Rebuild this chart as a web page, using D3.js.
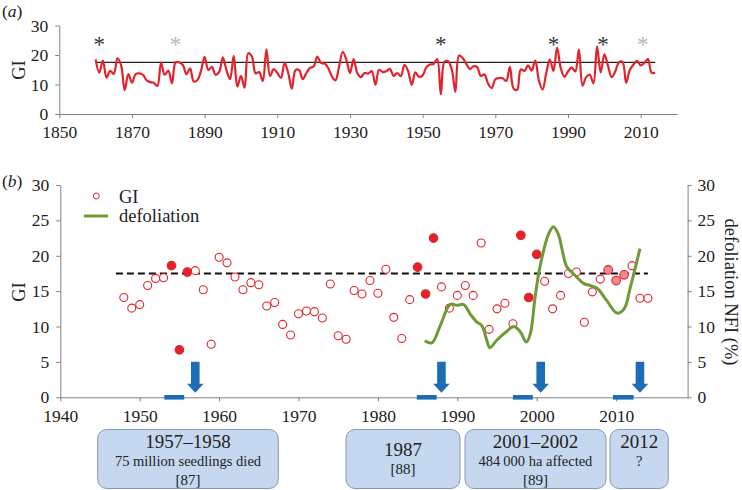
<!DOCTYPE html>
<html>
<head>
<meta charset="utf-8">
<script src="https://cdn.jsdelivr.net/npm/d3@7"></script>
<style>
  html, body { margin: 0; padding: 0; background: #fff; }
  svg { display: block; font-family: "Liberation Serif", "Times New Roman", serif; }
  .axis path, .axis line { stroke: #808080; stroke-width: 1; }
  .axis text { fill: #222; font-size: 17.5px; font-family: "Liberation Serif", "Times New Roman", serif; }
</style>
</head>
<body>
<svg id="chart" width="742" height="490"></svg>
<script>
// ---------- DATA ----------
// Panel (a): GI series, 1860-1947
const giEarlyStart = 1860;
const giEarly = [18.5, 14.0, 18.1, 12.3, 14.6, 13.6, 18.9, 16.6, 8.1, 13.5,
  10.6, 13.5, 13.8, 13.3, 11.5, 10.8, 10.6, 9.5, 17.4, 13.3,
  14.7, 10.4, 17.5, 17.5, 16.6, 13.5, 15.5, 11.0, 11.5, 14.6,
  19.4, 14.9, 16.0, 13.3, 14.3, 19.2, 14.9, 11.8, 19.7, 9.3,
  12.9, 8.9, 20.6, 19.5, 13.8, 14.2, 11.2, 21.9, 12.9, 15.2,
  13.9, 12.2, 17.3, 13.9, 8.6, 14.9, 14.9, 11.8, 13.9, 15.6,
  16.1, 19.5, 17.3, 17.1, 15.6, 12.8, 11.4, 16.1, 21.1, 18.4,
  13.9, 18.6, 13.9, 12.5, 13.9, 13.7, 14.5, 9.9, 15.0, 14.2,
  14.5, 15.3, 12.9, 13.9, 12.8, 16.7, 14.5, 9.9];
// Panel (b): GI 1948-2014
const giLateStart = 1948;
const giLate = [14.1, 12.6, 13.1, 15.8, 16.8, 16.9, 18.6, 6.7, 17.7, 17.9,
  15.2, 7.5, 19.8, 19.0, 17.0, 15.2, 16.2, 15.9, 12.9, 13.4,
  10.3, 8.8, 11.8, 12.2, 12.1, 11.2, 16.0, 8.7, 8.2, 15.1,
  14.6, 16.5, 14.7, 18.1, 11.3, 8.3, 13.8, 18.4, 14.6, 22.5,
  15.6, 12.6, 14.4, 15.8, 14.4, 21.8, 9.6, 12.5, 13.3, 10.4,
  22.9, 14.1, 20.2, 16.4, 12.5, 14.4, 17.5, 17.7, 10.6, 14.9,
  16.7, 18.0, 16.5, 17.3, 18.6, 14.0, 14.0];
const giMean = 17.5;
const meanLineA = [1860, 2014];
const meanLineB = [1947, 2014];

// drought years (filled markers)
const droughtYears = [1954, 1955, 1956, 1985, 1986, 1987, 1998, 1999, 2000];
const weakDroughtYears = [2009, 2010, 2011];

// asterisks in panel (a)
const starYears = [1861, 1882, 1955, 1986, 1999.6, 2010.6];
const starStrong = [true, false, true, true, true, false];
const starLevel = 25;

// defoliation NFI (%)
const defolYears = [1985.9, 1986.8, 1987.8, 1988.9, 1989.3, 1989.9, 1990.8, 1991.6, 1992.4, 1993.1,
  1993.7, 1994.1, 1995.0, 1996.2, 1997.1, 1997.9, 1998.7, 1999.2, 1999.8, 2000.4,
  2001.5, 2002.1, 2002.7, 2003.8, 2004.6, 2005.9, 2006.7, 2007.6, 2008.8, 2010.1,
  2011.0, 2011.8, 2013.0];
const defolValues = [8.0, 7.7, 10.0, 12.9, 13.2, 13.0, 13.1, 11.8, 10.7, 10.1,
  8.1, 7.0, 8.1, 9.3, 10.0, 9.3, 7.8, 9.0, 14.2, 18.4,
  23.1, 24.1, 23.1, 18.4, 17.5, 16.1, 15.8, 15.4, 13.7, 11.9,
  12.5, 15.6, 21.0];

// event arrows and drought bars
const arrowYears = [1957, 1988, 2000.5, 2013];
const barStart = [1953.1, 1984.9, 1997.0, 2009.6];
const barEnd = [1955.6, 1987.4, 1999.5, 2012.2];

// event boxes
const boxTitle = ["1957\u20131958", "1987", "2001\u20132002", "2012"];
const boxLine2 = ["75 million seedlings died", "[88]", "484\u2009000 ha affected", "?"];
const boxLine3 = ["[87]", "", "[89]", ""];

// axis ticks
const ticksAX = [1850, 1870, 1890, 1910, 1930, 1950, 1970, 1990, 2010];
const ticksAY = [0, 10, 20, 30];
const ticksBX = [1940, 1950, 1960, 1970, 1980, 1990, 2000, 2010];
const ticksBY = [0, 5, 10, 15, 20, 25, 30];

// ---------- DRAW ----------
const svg = d3.select("#chart");
const red = "#e3222b";
const blue = "#1c6db4";
const green = "#6f9a37";
const serif = '"Liberation Serif", "Times New Roman", serif';

const giAll = giEarly.map((v, i) => ({year: giEarlyStart + i, v}))
  .concat(giLate.map((v, i) => ({year: giLateStart + i, v})));
const giB = giLate.map((v, i) => ({year: giLateStart + i, v}));

// Panel (a)
const xA = d3.scaleLinear().domain([1850, 2020]).range([59.3, 677]);
const yA = d3.scaleLinear().domain([0, 30]).range([114, 25.5]);

svg.append("g").attr("class", "axis").attr("transform", "translate(0,114)")
  .call(d3.axisBottom(xA).tickValues(ticksAX).tickFormat(d3.format("d")).tickSize(4).tickSizeOuter(0).tickPadding(8));
svg.append("g").attr("class", "axis").attr("transform", "translate(59.3,0)")
  .call(d3.axisLeft(yA).tickValues(ticksAY).tickSize(4).tickSizeOuter(0).tickPadding(7));

svg.append("line")
  .attr("x1", xA(meanLineA[0])).attr("x2", xA(meanLineA[1]))
  .attr("y1", yA(giMean)).attr("y2", yA(giMean))
  .attr("stroke", "#222").attr("stroke-width", 1.2);

svg.append("path").datum(giAll)
  .attr("fill", "none").attr("stroke", red).attr("stroke-width", 2.2)
  .attr("d", d3.line().x(d => xA(d.year)).y(d => yA(d.v)).curve(d3.curveCatmullRom.alpha(0.5)));

svg.selectAll("text.star").data(starYears).enter().append("text")
  .attr("class", "star")
  .attr("x", d => xA(d)).attr("y", yA(starLevel) + 12)
  .attr("text-anchor", "middle")
  .attr("font-family", serif).attr("font-size", 23)
  .attr("fill", (d, i) => starStrong[i] ? "#333" : "#b5b5b5")
  .text("*");

svg.append("text").attr("x", 2).attr("y", 17).attr("font-family", serif).attr("font-size", 17.5)
  .attr("fill", "#222").html('(<tspan font-style="italic">a</tspan>)');
svg.append("text").attr("transform", "translate(25,70) rotate(-90)")
  .attr("text-anchor", "middle").attr("font-family", serif).attr("font-size", 18.5).attr("fill", "#222").text("GI");

// Panel (b)
const xB = d3.scaleLinear().domain([1940, 2019]).range([60.3, 687.6]);
const yB = d3.scaleLinear().domain([0, 30]).range([397.3, 185]);

svg.append("g").attr("class", "axis").attr("transform", "translate(0,397.3)")
  .call(d3.axisBottom(xB).tickValues(ticksBX).tickFormat(d3.format("d")).tickSize(4).tickSizeOuter(0).tickPadding(8));
svg.append("g").attr("class", "axis").attr("transform", "translate(60.3,0)")
  .call(d3.axisLeft(yB).tickValues(ticksBY).tickSize(4).tickSizeOuter(0).tickPadding(7));
svg.append("g").attr("class", "axis").attr("transform", "translate(687.6,0)")
  .call(d3.axisRight(yB).tickValues(ticksBY).tickSize(4).tickSizeOuter(0).tickPadding(6));

// dashed mean
svg.append("line")
  .attr("x1", xB(meanLineB[0])).attr("x2", xB(meanLineB[1]))
  .attr("y1", yB(giMean)).attr("y2", yB(giMean))
  .attr("stroke", "#111").attr("stroke-width", 2).attr("stroke-dasharray", "7,4");

// circles
svg.selectAll("circle.gi").data(giB).enter().append("circle")
  .attr("class", "gi")
  .attr("cx", d => xB(d.year)).attr("cy", d => yB(d.v))
  .attr("r", d => droughtYears.includes(d.year) || weakDroughtYears.includes(d.year) ? 4.3 : 4)
  .attr("fill", d => droughtYears.includes(d.year) ? red : (weakDroughtYears.includes(d.year) ? "#f08a8c" : "#fff"))
  .attr("stroke", red).attr("stroke-width", 1.1);

// defoliation curve
const defol = defolYears.map((y, i) => ({year: y, v: defolValues[i]}));
svg.append("path").datum(defol)
  .attr("fill", "none").attr("stroke", green).attr("stroke-width", 3)
  .attr("d", d3.line().x(d => xB(d.year)).y(d => yB(d.v)).curve(d3.curveCatmullRom.alpha(0.5)));

// drought bars
svg.selectAll("rect.bar").data(barStart).enter().append("rect")
  .attr("x", (d) => xB(d)).attr("width", (d, i) => xB(barEnd[i]) - xB(d))
  .attr("y", yB(0) - 2.3).attr("height", 4.6).attr("fill", blue);

// arrows
const arrowPath = (cx) => {
  const top = yB(0) - 35.6, shaftEnd = yB(0) - 13.5, tip = yB(0) - 4.6;
  return `M${cx - 4.3},${top} L${cx + 4.3},${top} L${cx + 4.3},${shaftEnd} L${cx + 8.3},${shaftEnd} L${cx},${tip} L${cx - 8.3},${shaftEnd} L${cx - 4.3},${shaftEnd} Z`;
};
svg.selectAll("path.arrow").data(arrowYears).enter().append("path")
  .attr("class", "arrow").attr("d", d => arrowPath(xB(d))).attr("fill", blue);

// labels
svg.append("text").attr("x", 2).attr("y", 187).attr("font-family", serif).attr("font-size", 17.5)
  .attr("fill", "#222").html('(<tspan font-style="italic">b</tspan>)');
svg.append("text").attr("transform", "translate(25,292) rotate(-90)")
  .attr("text-anchor", "middle").attr("font-family", serif).attr("font-size", 18.5).attr("fill", "#222").text("GI");
svg.append("text").attr("transform", "translate(725,292) rotate(90)")
  .attr("text-anchor", "middle").attr("font-family", serif).attr("font-size", 18.5).attr("fill", "#222").text("defoliation NFI (%)");

// legend
svg.append("circle").attr("cx", 96.3).attr("cy", 196).attr("r", 3).attr("fill", "#fff").attr("stroke", red).attr("stroke-width", 1);
svg.append("text").attr("x", 119).attr("y", 202.5).attr("font-family", serif).attr("font-size", 18.5).attr("fill", "#222").text("GI");
svg.append("line").attr("x1", 84).attr("x2", 108).attr("y1", 216).attr("y2", 216).attr("stroke", green).attr("stroke-width", 3);
svg.append("text").attr("x", 119).attr("y", 221.5).attr("font-family", serif).attr("font-size", 18.5).attr("fill", "#222").text("defoliation");

// event boxes
const boxX0 = [97.7, 346, 465, 610];
const boxX1 = [278.3, 460, 606, 668.3];
const boxes = svg.selectAll("g.box").data(boxTitle).enter().append("g").attr("class", "box");
boxes.append("rect")
  .attr("x", (d, i) => boxX0[i]).attr("width", (d, i) => boxX1[i] - boxX0[i])
  .attr("y", 429.5).attr("height", 59).attr("rx", 9).attr("ry", 9)
  .attr("fill", "#c5d8ef").attr("stroke", "#8798b3").attr("stroke-width", 1);
boxes.append("text")
  .attr("x", (d, i) => (boxX0[i] + boxX1[i]) / 2)
  .attr("y", (d, i) => i === 1 ? 456 : 448)
  .attr("text-anchor", "middle").attr("font-family", serif).attr("font-size", 19).attr("fill", "#222")
  .text(d => d);
boxes.append("text")
  .attr("x", (d, i) => (boxX0[i] + boxX1[i]) / 2)
  .attr("y", (d, i) => i === 1 ? 474 : 466)
  .attr("text-anchor", "middle").attr("font-family", serif).attr("font-size", (d, i) => i === 1 ? 15 : 14.5).attr("fill", "#222")
  .text((d, i) => boxLine2[i]);
boxes.append("text")
  .attr("x", (d, i) => (boxX0[i] + boxX1[i]) / 2)
  .attr("y", 485)
  .attr("text-anchor", "middle").attr("font-family", serif).attr("font-size", 15).attr("fill", "#222")
  .text((d, i) => boxLine3[i]);
</script>
</body>
</html>
